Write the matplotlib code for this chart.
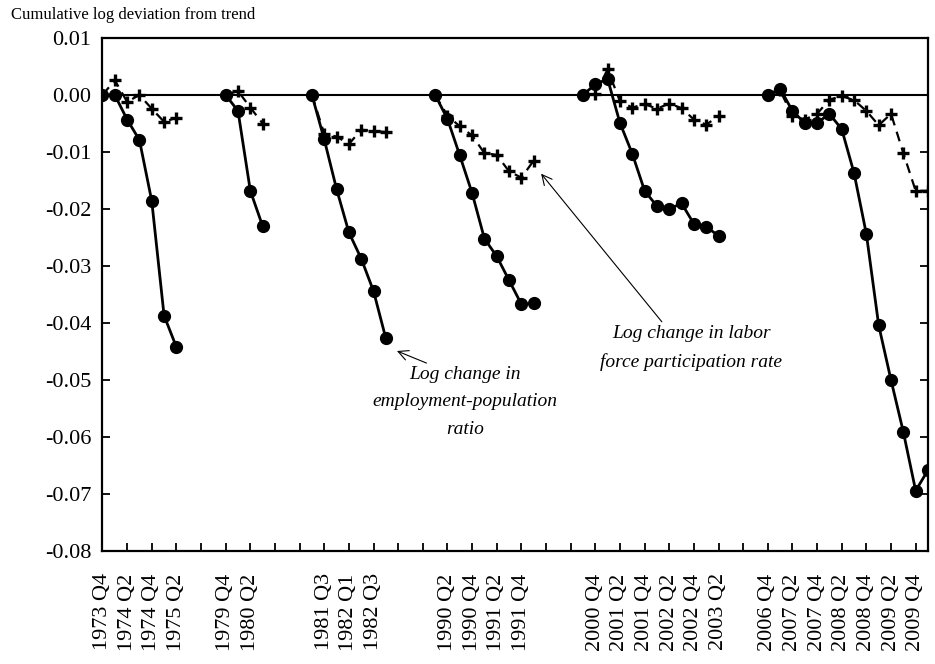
import numpy as np
import matplotlib.pyplot as plt
from matplotlib.ticker import FormatStrFormatter, MultipleLocator

plt.rcParams['font.family'] = ['Liberation Serif', 'DejaVu Serif']

# quarters of each episode (peak onwards)
q_1973 = ["1973 Q4", "1974 Q1", "1974 Q2", "1974 Q3", "1974 Q4", "1975 Q1", "1975 Q2"]
q_1980 = ["1979 Q4", "1980 Q1", "1980 Q2", "1980 Q3"]
q_1981 = ["1981 Q2", "1981 Q3", "1981 Q4", "1982 Q1", "1982 Q2", "1982 Q3", "1982 Q4"]
q_1990 = ["1990 Q1", "1990 Q2", "1990 Q3", "1990 Q4", "1991 Q1", "1991 Q2", "1991 Q3",
          "1991 Q4", "1992 Q1"]
q_2001 = ["2000 Q3", "2000 Q4", "2001 Q1", "2001 Q2", "2001 Q3", "2001 Q4", "2002 Q1",
          "2002 Q2", "2002 Q3", "2002 Q4", "2003 Q1", "2003 Q2"]
q_2007 = ["2006 Q4", "2007 Q1", "2007 Q2", "2007 Q3", "2007 Q4", "2008 Q1", "2008 Q2",
          "2008 Q3", "2008 Q4", "2009 Q1", "2009 Q2", "2009 Q3", "2009 Q4", "2010 Q1"]

# log change in employment-population ratio
epop_1973 = [0.0, 0.0, -0.0043, -0.0079, -0.0186, -0.0387, -0.0442]
epop_1980 = [0.0, -0.0028, -0.0168, -0.0230]
epop_1981 = [0.0, -0.0078, -0.0165, -0.0241, -0.0287, -0.0344, -0.0427]
epop_1990 = [0.0, -0.0042, -0.0106, -0.0172, -0.0252, -0.0283, -0.0325, -0.0367, -0.0365]
epop_2001 = [0.0, 0.0019, 0.0028, -0.0049, -0.0103, -0.0168, -0.0195, -0.0200, -0.0190,
             -0.0226, -0.0231, -0.0247]
epop_2007 = [0.0, 0.0011, -0.0028, -0.0049, -0.0049, -0.0033, -0.0060, -0.0137, -0.0244,
             -0.0404, -0.0500, -0.0591, -0.0694, -0.0658]

# log change in labor force participation rate
lfpr_1973 = [0.0, 0.0026, -0.0012, 0.0000, -0.0024, -0.0047, -0.0040]
lfpr_1980 = [0.0, 0.0007, -0.0022, -0.0050]
lfpr_1981 = [0.0, -0.0068, -0.0073, -0.0086, -0.0061, -0.0063, -0.0065]
lfpr_1990 = [0.0, -0.0036, -0.0055, -0.0071, -0.0102, -0.0105, -0.0134, -0.0145, -0.0115]
lfpr_2001 = [0.0, 0.0002, 0.0045, -0.0011, -0.0022, -0.0016, -0.0024, -0.0015, -0.0023,
             -0.0043, -0.0052, -0.0037]
lfpr_2007 = [0.0, 0.0008, -0.0037, -0.0043, -0.0033, -0.0008, -0.0002, -0.0009, -0.0028,
             -0.0053, -0.0033, -0.0102, -0.0168, -0.0168]

quarters = [q_1973, q_1980, q_1981, q_1990, q_2001, q_2007]
epop = [epop_1973, epop_1980, epop_1981, epop_1990, epop_2001, epop_2007]
lfpr = [lfpr_1973, lfpr_1980, lfpr_1981, lfpr_1990, lfpr_2001, lfpr_2007]
gap = 3  # empty categories between episodes

cats, e_all, l_all = [], [], []
for i, (q, e, l) in enumerate(zip(quarters, epop, lfpr)):
    if i > 0:
        cats += [""] * gap
        e_all += [np.nan] * gap
        l_all += [np.nan] * gap
    cats += q
    e_all += e
    l_all += l
x = np.arange(len(cats))

fig = plt.figure(figsize=(9.35, 6.64), dpi=100)
ax = fig.add_axes([0.1096, 0.170, 0.8829, 0.7728])

ax.axhline(0, color='black', lw=1.5, zorder=1)
ax.plot(x, l_all, color='black', lw=1.6, ls=(0, (4.5, 3)), marker='+', ms=8, mew=2.4,
        zorder=2)
ax.plot(x, e_all, color='black', lw=2.0, marker='o', ms=8.5, zorder=3)

ax.set_xlim(0, len(cats) - 1)
ax.set_ylim(-0.08, 0.01)
ax.yaxis.set_major_locator(MultipleLocator(0.01))
ax.yaxis.set_major_formatter(FormatStrFormatter('%.2f'))
ax.set_yticklabels(["%.2f" % v if abs(v) > 1e-9 else "0.00" for v in ax.get_yticks()])

ax.set_xticks(x[::2])
ax.set_xticklabels(cats[::2], rotation=90, fontsize=16)
ax.tick_params(axis='x', direction='in', length=6, width=1.3, pad=16)
ax.tick_params(axis='y', direction='in', length=6, width=1.3, pad=8, labelsize=16,
               right=True)
for s in ax.spines.values():
    s.set_linewidth(1.6)

fig.text(0.012, 0.977, "Cumulative log deviation from trend", fontsize=12, va='center')

ax.annotate("Log change in\nemployment-population\nratio", xy=(23.9, -0.0449),
            xytext=(29.4, -0.0538), ha='center', va='center', fontsize=14,
            style='italic', linespacing=1.8,
            arrowprops=dict(arrowstyle='->', lw=0.8, color='black', mutation_scale=18,
                            shrinkA=0, shrinkB=0, relpos=(0.33, 1.0)))
ax.annotate("Log change in labor\nforce participation rate", xy=(35.6, -0.0138),
            xytext=(47.8, -0.0443), ha='center', va='center', fontsize=14,
            style='italic', linespacing=1.8,
            arrowprops=dict(arrowstyle='->', lw=0.8, color='black', mutation_scale=18,
                            shrinkA=0, shrinkB=0, relpos=(0.35, 1.0)))

fig.savefig("out.png", dpi=100)
